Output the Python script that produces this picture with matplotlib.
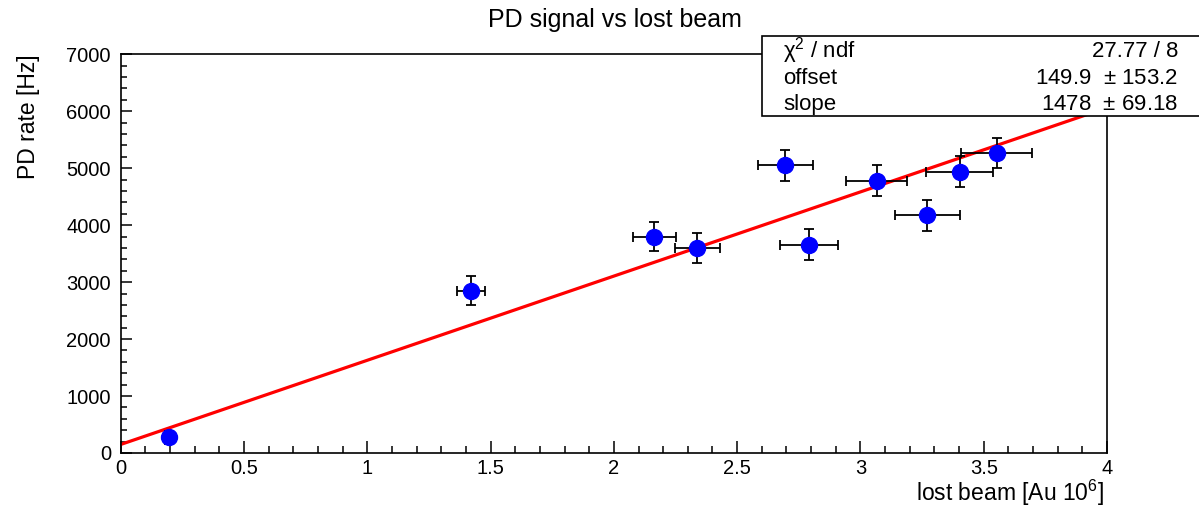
import numpy as np
import matplotlib
matplotlib.use("Agg")
import matplotlib.pyplot as plt
from matplotlib.patches import Rectangle
from matplotlib.ticker import MultipleLocator

plt.rcParams['font.family'] = ['Liberation Sans', 'DejaVu Sans']
plt.rcParams['mathtext.fontset'] = 'custom'
plt.rcParams['mathtext.rm'] = 'Liberation Sans'
plt.rcParams['mathtext.it'] = 'Liberation Sans:italic'
plt.rcParams['mathtext.bf'] = 'Liberation Sans:bold'

# data
lost_beam = [0.196, 1.421, 2.164, 2.339, 2.696, 2.791, 3.066, 3.272, 3.402, 3.553]
lost_beam_err = [0.008, 0.058, 0.087, 0.093, 0.111, 0.117, 0.124, 0.131, 0.135, 0.144]
pd_rate = [280, 2850, 3800, 3600, 5050, 3660, 4780, 4170, 4935, 5265]
pd_rate_err = [115, 257, 255, 258, 272, 276, 272, 270, 272, 270]

# fit results shown in the stats box
fit_offset = 149.9
fit_offset_err = 153.2
fit_slope = 1478
fit_slope_err = 69.18
chi2 = 27.77
ndf = 8

W, H = 1199, 508
fig = plt.figure(figsize=(W / 100, H / 100), dpi=100)
ax = fig.add_axes([120.7 / W, 1 - 453 / H, (1107 - 120.7) / W, (453 - 54.3) / H])

ax.set_xlim(0, 4)
ax.set_ylim(0, 7000)

xf = np.linspace(0, 4, 200)
ax.plot(xf, fit_offset + fit_slope * xf, color='#ff0000', lw=2.3, zorder=2)

ax.errorbar(lost_beam, pd_rate, xerr=lost_beam_err, yerr=pd_rate_err,
            fmt='o', color='#0000ff', ms=11.5, mec='#0000ff',
            ecolor='black', elinewidth=1.3, capsize=3.5, capthick=1.3, zorder=3)

ax.xaxis.set_major_locator(MultipleLocator(0.5))
ax.xaxis.set_minor_locator(MultipleLocator(0.1))
ax.yaxis.set_major_locator(MultipleLocator(1000))
ax.yaxis.set_minor_locator(MultipleLocator(200))
ax.xaxis.set_major_formatter(matplotlib.ticker.FuncFormatter(lambda v, p: f"{v:g}"))

ax.tick_params(axis='both', which='both', direction='in', top=False, right=False,
               labelsize=14.5, width=1.1, colors='black')
ax.tick_params(axis='x', which='major', length=9, pad=4)
ax.tick_params(axis='x', which='minor', length=5)
ax.tick_params(axis='y', which='major', length=8, pad=7)
ax.tick_params(axis='y', which='minor', length=4.5)
for s in ax.spines.values():
    s.set_linewidth(1.2)

fig.text(615 / W, 1 - 20 / H, 'PD signal vs lost beam', ha='center', va='center', fontsize=18)
fig.text(1104 / W, 1 - 493 / H, 'lost beam [Au 10$^{6}$]', ha='right', va='center', fontsize=16.5)
fig.text(28 / W, 1 - 54 / H, 'PD rate [Hz]', ha='center', va='top', rotation=90, fontsize=16.5)

# stats box
rect = Rectangle((762 / W, 1 - 116 / H), 1.1, (116 - 36) / H, transform=fig.transFigure,
                 facecolor='white', edgecolor='black', lw=1.2, zorder=5, clip_on=False)
fig.add_artist(rect)
rows = [("χ$^{2}$ / ndf", f"{chi2:.2f} / {ndf}"),
        ("offset", f"{fit_offset:.1f}  $\\pm$ {fit_offset_err:.1f}"),
        ("slope", f"{fit_slope}  $\\pm$ {fit_slope_err:.2f}")]
baselines = [57, 84, 110]
for (lab, val), yb in zip(rows, baselines):
    fig.text(783 / W, 1 - yb / H, lab, ha='left', va='baseline', fontsize=16, zorder=6)
    fig.text(1178 / W, 1 - yb / H, val, ha='right', va='baseline', fontsize=16, zorder=6)

fig.savefig('out.png', dpi=100)
